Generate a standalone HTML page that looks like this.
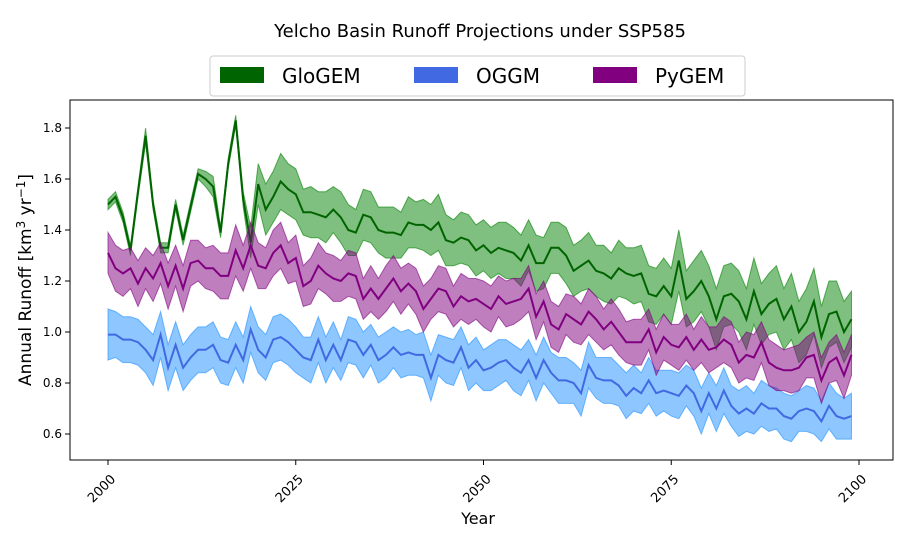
<!DOCTYPE html>
<html><head><meta charset="utf-8"><style>
body{margin:0;background:#fff;font-family:"Liberation Sans","DejaVu Sans",sans-serif}
svg text{font-family:"DejaVu Sans","Liberation Sans",sans-serif}
</style></head><body>
<svg id="chart" width="900" height="540" xmlns="http://www.w3.org/2000/svg">
<text x="480" y="37" font-size="18" text-anchor="middle">Yelcho Basin Runoff Projections under SSP585</text>
<g id="plot"></g>
<rect x="70" y="100" width="823" height="360" fill="none" stroke="#000" stroke-width="1"/>
<g id="axes"></g>
<text x="478" y="524" font-size="16" text-anchor="middle">Year</text>
<text transform="translate(31,280) rotate(-90)" font-size="17" text-anchor="middle">Annual Runoff [km<tspan font-size="12" dy="-6">3</tspan><tspan dy="6"> yr</tspan><tspan font-size="12" dy="-6">−1</tspan><tspan dy="6">]</tspan></text>
<g>
<rect x="210" y="56" width="535" height="40" rx="3" fill="#fff" stroke="#ccc"/>
<g><rect x="220" y="67" width="44" height="16" fill="#006400"/><text x="282" y="83" font-size="20">GloGEM</text></g>
<g><rect x="414" y="67" width="44" height="16" fill="#4169e1"/><text x="476" y="83" font-size="20">OGGM</text></g>
<g><rect x="593" y="67" width="44" height="16" fill="#800080"/><text x="655" y="83" font-size="20">PyGEM</text></g>
</g>
</svg>
<script>
const years = Array.from({length:100},(_,i)=>2000+i);
const glogemMean = [1.50,1.53,1.45,1.32,1.55,1.77,1.50,1.33,1.33,1.50,1.36,1.49,1.62,1.60,1.57,1.39,1.66,1.83,1.52,1.35,1.58,1.48,1.53,1.59,1.56,1.54,1.47,1.47,1.46,1.45,1.48,1.45,1.40,1.39,1.46,1.45,1.40,1.39,1.39,1.38,1.43,1.42,1.42,1.40,1.43,1.36,1.35,1.37,1.36,1.32,1.34,1.31,1.33,1.32,1.31,1.28,1.34,1.27,1.27,1.33,1.33,1.30,1.24,1.26,1.28,1.24,1.23,1.21,1.25,1.23,1.22,1.23,1.15,1.14,1.18,1.14,1.28,1.13,1.16,1.20,1.14,1.05,1.14,1.15,1.12,1.05,1.16,1.07,1.11,1.13,1.05,1.10,1.00,1.04,1.12,0.98,1.07,1.08,1.00,1.05];
const glogemSpread = [0.02,0.02,0.02,0.02,0.02,0.03,0.02,0.02,0.02,0.02,0.02,0.02,0.02,0.03,0.04,0.02,0.02,0.02,0.03,0.06,0.08,0.10,0.10,0.11,0.10,0.10,0.09,0.10,0.09,0.10,0.09,0.10,0.10,0.09,0.10,0.10,0.09,0.10,0.10,0.09,0.10,0.09,0.10,0.10,0.11,0.10,0.09,0.10,0.10,0.10,0.10,0.10,0.10,0.11,0.10,0.10,0.10,0.11,0.10,0.10,0.10,0.11,0.10,0.10,0.11,0.10,0.11,0.10,0.11,0.10,0.11,0.11,0.11,0.11,0.11,0.11,0.12,0.11,0.12,0.12,0.12,0.12,0.12,0.12,0.12,0.12,0.13,0.12,0.12,0.13,0.12,0.13,0.12,0.13,0.13,0.12,0.13,0.12,0.12,0.11];
const pygemMean = [1.31,1.25,1.23,1.25,1.19,1.25,1.21,1.27,1.18,1.26,1.17,1.27,1.28,1.25,1.25,1.22,1.22,1.32,1.25,1.34,1.26,1.25,1.31,1.34,1.27,1.29,1.18,1.20,1.26,1.23,1.21,1.20,1.23,1.22,1.13,1.17,1.13,1.17,1.21,1.16,1.19,1.16,1.09,1.13,1.17,1.16,1.10,1.14,1.12,1.13,1.11,1.09,1.14,1.11,1.12,1.13,1.17,1.06,1.12,1.03,1.01,1.07,1.05,1.03,1.08,1.05,1.01,1.04,1.00,0.96,0.96,0.96,1.01,0.92,0.98,0.95,0.94,0.98,0.93,0.97,0.93,0.94,0.97,0.95,0.88,0.91,0.90,0.96,0.88,0.86,0.85,0.85,0.86,0.90,0.91,0.81,0.88,0.90,0.83,0.91];
const pygemSpread = [0.08,0.09,0.09,0.08,0.09,0.08,0.09,0.08,0.09,0.08,0.09,0.09,0.08,0.08,0.09,0.09,0.09,0.10,0.09,0.09,0.09,0.08,0.09,0.09,0.08,0.09,0.08,0.09,0.09,0.08,0.09,0.08,0.09,0.09,0.08,0.09,0.08,0.09,0.09,0.09,0.08,0.09,0.09,0.08,0.09,0.09,0.08,0.09,0.09,0.08,0.09,0.09,0.08,0.09,0.09,0.08,0.09,0.09,0.08,0.09,0.09,0.08,0.09,0.08,0.09,0.09,0.08,0.09,0.09,0.08,0.09,0.09,0.08,0.09,0.09,0.08,0.09,0.09,0.08,0.09,0.09,0.08,0.09,0.09,0.08,0.09,0.09,0.08,0.09,0.09,0.08,0.09,0.09,0.08,0.09,0.09,0.08,0.09,0.09,0.08];
const oggmMean = [0.99,0.99,0.97,0.97,0.96,0.93,0.89,0.99,0.86,0.95,0.86,0.90,0.93,0.93,0.95,0.89,0.88,0.95,0.89,1.01,0.93,0.90,0.97,0.98,0.96,0.93,0.90,0.89,0.97,0.89,0.95,0.89,0.97,0.96,0.91,0.95,0.89,0.91,0.94,0.91,0.92,0.91,0.91,0.82,0.91,0.89,0.88,0.94,0.86,0.89,0.85,0.86,0.88,0.89,0.86,0.84,0.89,0.82,0.89,0.84,0.81,0.81,0.80,0.76,0.87,0.82,0.81,0.81,0.79,0.75,0.78,0.76,0.81,0.76,0.77,0.76,0.75,0.79,0.76,0.69,0.76,0.70,0.77,0.71,0.68,0.70,0.68,0.72,0.70,0.70,0.67,0.66,0.69,0.70,0.69,0.65,0.71,0.67,0.66,0.67];
const oggmSpread = [0.10,0.09,0.09,0.09,0.09,0.09,0.10,0.09,0.09,0.09,0.09,0.09,0.09,0.09,0.09,0.09,0.09,0.09,0.09,0.09,0.09,0.09,0.09,0.09,0.09,0.09,0.08,0.09,0.09,0.09,0.09,0.08,0.09,0.09,0.09,0.08,0.09,0.09,0.08,0.09,0.09,0.08,0.09,0.09,0.08,0.09,0.09,0.08,0.09,0.09,0.08,0.09,0.09,0.08,0.09,0.09,0.08,0.09,0.09,0.08,0.09,0.09,0.08,0.09,0.09,0.08,0.09,0.09,0.08,0.09,0.09,0.08,0.09,0.09,0.08,0.09,0.09,0.08,0.09,0.09,0.08,0.09,0.09,0.08,0.09,0.09,0.08,0.09,0.09,0.08,0.09,0.09,0.08,0.09,0.09,0.08,0.09,0.09,0.08,0.09];
const xTicks = [2000,2025,2050,2075,2100];
const yTicks = [0.6,0.8,1.0,1.2,1.4,1.6,1.8];

const NS="http://www.w3.org/2000/svg";
const xs = y => 108 + (y-2000)*7.51;
const ys = v => 434 - (v-0.6)*255;
const plot=document.getElementById('plot'), axes=document.getElementById('axes');
function mk(tag,attrs,parent){const e=document.createElementNS(NS,tag);for(const k in attrs)e.setAttribute(k,attrs[k]);parent.appendChild(e);return e;}
function series(name,mean,spread,fill,edge,line){
  let up=years.map((y,i)=>xs(y).toFixed(1)+','+ys(mean[i]+spread[i]).toFixed(1));
  let dn=years.map((y,i)=>xs(y).toFixed(1)+','+ys(mean[i]-spread[i]).toFixed(1)).reverse();
  const b=mk('polygon',{points:up.concat(dn).join(' '),fill:fill,'fill-opacity':0.5,stroke:edge,'stroke-opacity':0.6,'stroke-width':1},plot);
  
  
  const l=mk('polyline',{points:years.map((y,i)=>xs(y).toFixed(1)+','+ys(mean[i]).toFixed(1)).join(' '),fill:'none',stroke:line,'stroke-width':2},plot);
  
  
}
series('glogem',glogemMean,glogemSpread,'#008000','#008000','#006400');
series('oggm',oggmMean,oggmSpread,'#1e90ff','#1e90ff','#4169e1');
series('pygem',pygemMean,pygemSpread,'#800080','#800080','#800080');
xTicks.forEach(t=>{
  const x=xs(t);
  const tk=mk('line',{x1:x,x2:x,y1:460,y2:465,stroke:'#000'},axes);
  
  
  const tx=mk('text',{x:x,y:470,'font-size':13,'text-anchor':'end',transform:`rotate(-45 ${x+4} 470)`},axes);
  
  
  tx.setAttribute('dy','10');
  tx.textContent=t;
});
yTicks.forEach(t=>{
  const y=ys(t);
  const tk=mk('line',{x1:65,x2:70,y1:y,y2:y,stroke:'#000'},axes);
  
  
  const tx=mk('text',{x:62,y:y+4,'font-size':12,'text-anchor':'end'},axes);
  
  
  tx.textContent=t.toFixed(1);
});
</script>
</body></html>
